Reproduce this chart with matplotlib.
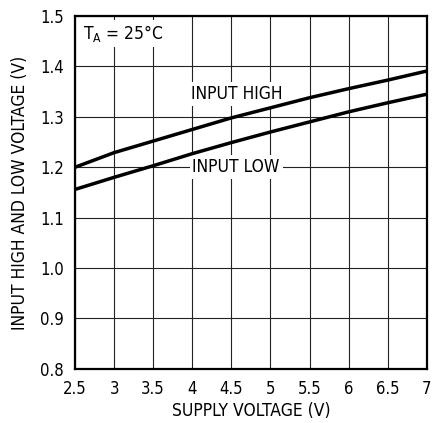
import numpy as np
import matplotlib.pyplot as plt

# supply voltage (V) and thresholds
vcc = [2.5, 3.0, 3.5, 4.0, 4.5, 5.0, 5.5, 6.0, 6.5, 7.0]
v_high = [1.200, 1.229, 1.252, 1.275, 1.298, 1.318, 1.338, 1.356, 1.373, 1.391]
v_low = [1.156, 1.180, 1.203, 1.227, 1.249, 1.270, 1.290, 1.310, 1.328, 1.345]

xticks = [2.5, 3, 3.5, 4, 4.5, 5, 5.5, 6, 6.5, 7]
xticklabels = ['2.5', '3', '3.5', '4', '4.5', '5', '5.5', '6', '6.5', '7']
yticks = [0.8, 0.9, 1.0, 1.1, 1.2, 1.3, 1.4, 1.5]

plt.rcParams['font.family'] = ['DejaVu Sans']
plt.rcParams['font.stretch'] = 'condensed'

fig = plt.figure(figsize=(4.41, 4.23), dpi=100)
ax = fig.add_axes([0.170, 0.128, 0.798, 0.834])

ax.plot(vcc, v_high, color='black', lw=2.5, zorder=3)
ax.plot(vcc, v_low, color='black', lw=2.5, zorder=3)

ax.set_xlim(2.5, 7)
ax.set_ylim(0.8, 1.5)
ax.set_xticks(xticks)
ax.set_xticklabels(xticklabels)
ax.set_yticks(yticks)
ax.set_yticklabels([f'{v:.1f}' for v in yticks])
ax.grid(True, color='#222222', lw=0.8)
ax.tick_params(length=0, labelsize=12)
ax.tick_params(axis='x', pad=8)
ax.tick_params(axis='y', pad=8)
for s in ax.spines.values():
    s.set_linewidth(1.6)

ax.set_xlabel('SUPPLY VOLTAGE (V)', fontsize=12.5, labelpad=3)
ax.set_ylabel('INPUT HIGH AND LOW VOLTAGE (V)', fontsize=12.5, labelpad=8)

box = dict(facecolor='white', edgecolor='none', pad=2)
ax.text(2.6, 1.465, r'T$_\mathregular{A}$ = 25°C', fontsize=12.5, va='center', ha='left', bbox=box, zorder=4)
ax.text(4.57, 1.345, 'INPUT HIGH', fontsize=12.5, va='center', ha='center', bbox=box, zorder=2)
ax.text(4.56, 1.200, 'INPUT LOW', fontsize=12.5, va='center', ha='center', bbox=box, zorder=2)

fig.savefig('out.png', dpi=100)
